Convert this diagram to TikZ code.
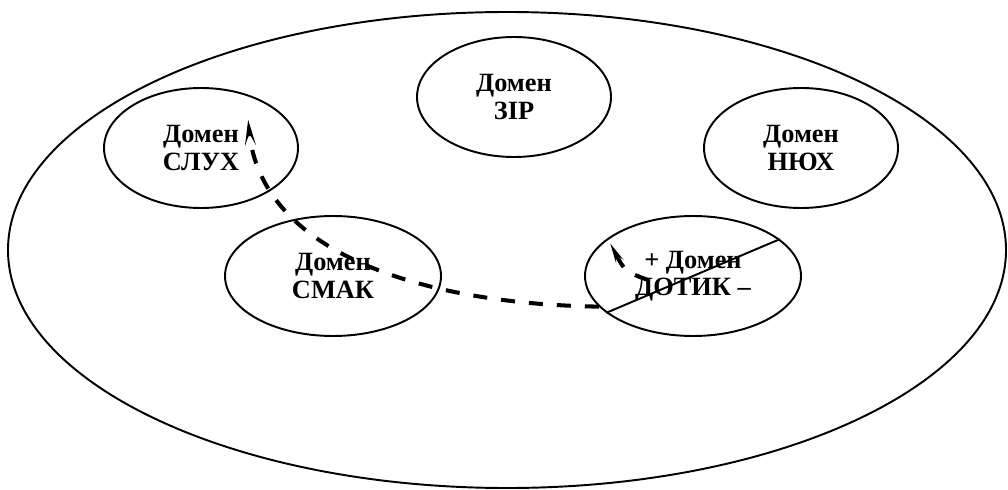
\documentclass[tikz,border=0pt]{standalone}
\usepackage{fontspec}
\setmainfont{Liberation Serif}
\usetikzlibrary{shapes.geometric,arrows.meta}
\tikzset{
  domainbox/.style={draw, ellipse, line width=1.1pt, minimum width=3.88cm,
    minimum height=2.4cm, inner sep=0pt, align=center,
    font=\fontsize{15}{15.5}\selectfont\bfseries},
  widebox/.style={minimum width=4.32cm},
  flow/.style={line width=2.3pt, dash pattern=on 0.28cm off 0.28cm,
    -{Stealth[length=4.5mm,width=1.6mm]}}
}
\begin{document}
\begin{tikzpicture}
  \useasboundingbox (0,0) rectangle (20.16,9.78);
  % big ellipse round all the domains
  \node[draw, ellipse, line width=1.1pt, minimum width=19.96cm, minimum height=9.52cm] (field) at (10.14,4.78) {};
  % top row
  \node[domainbox] (zir) at (10.28,7.84) {Домен\\ЗІР};
  \node[domainbox] (sluh) at (4.02,6.82) {Домен\\СЛУХ};
  \node[domainbox] (nyuh) at (16.02,6.82) {Домен\\НЮХ};
  % bottom row
  \node[domainbox, widebox] (smak) at (6.66,4.26) {Домен\\СМАК};
  \node[domainbox, widebox] (dotik) at (13.86,4.26) {+ Домен\\ДОТИК –};
  % line that cuts dotik in two
  \draw[line width=1.1pt] (dotik.203) -- (dotik.23);
  % dashed path from dotik round to sluh
  \coordinate (sluhtip) at (4.96,7.42);
  \draw[flow] (dotik.198) .. controls (8.5,3.7) and (5.2,4.7) .. (sluhtip);
  % short dashed arc inside dotik
  \coordinate (dotikstart) at (12.96,4.18);
  \coordinate (dotiktip) at (12.2,4.92);
  \draw[flow, -{Stealth[length=3.8mm,width=1.4mm]}] (dotikstart) .. controls (12.5,4.35) .. (dotiktip);
\end{tikzpicture}
\end{document}
